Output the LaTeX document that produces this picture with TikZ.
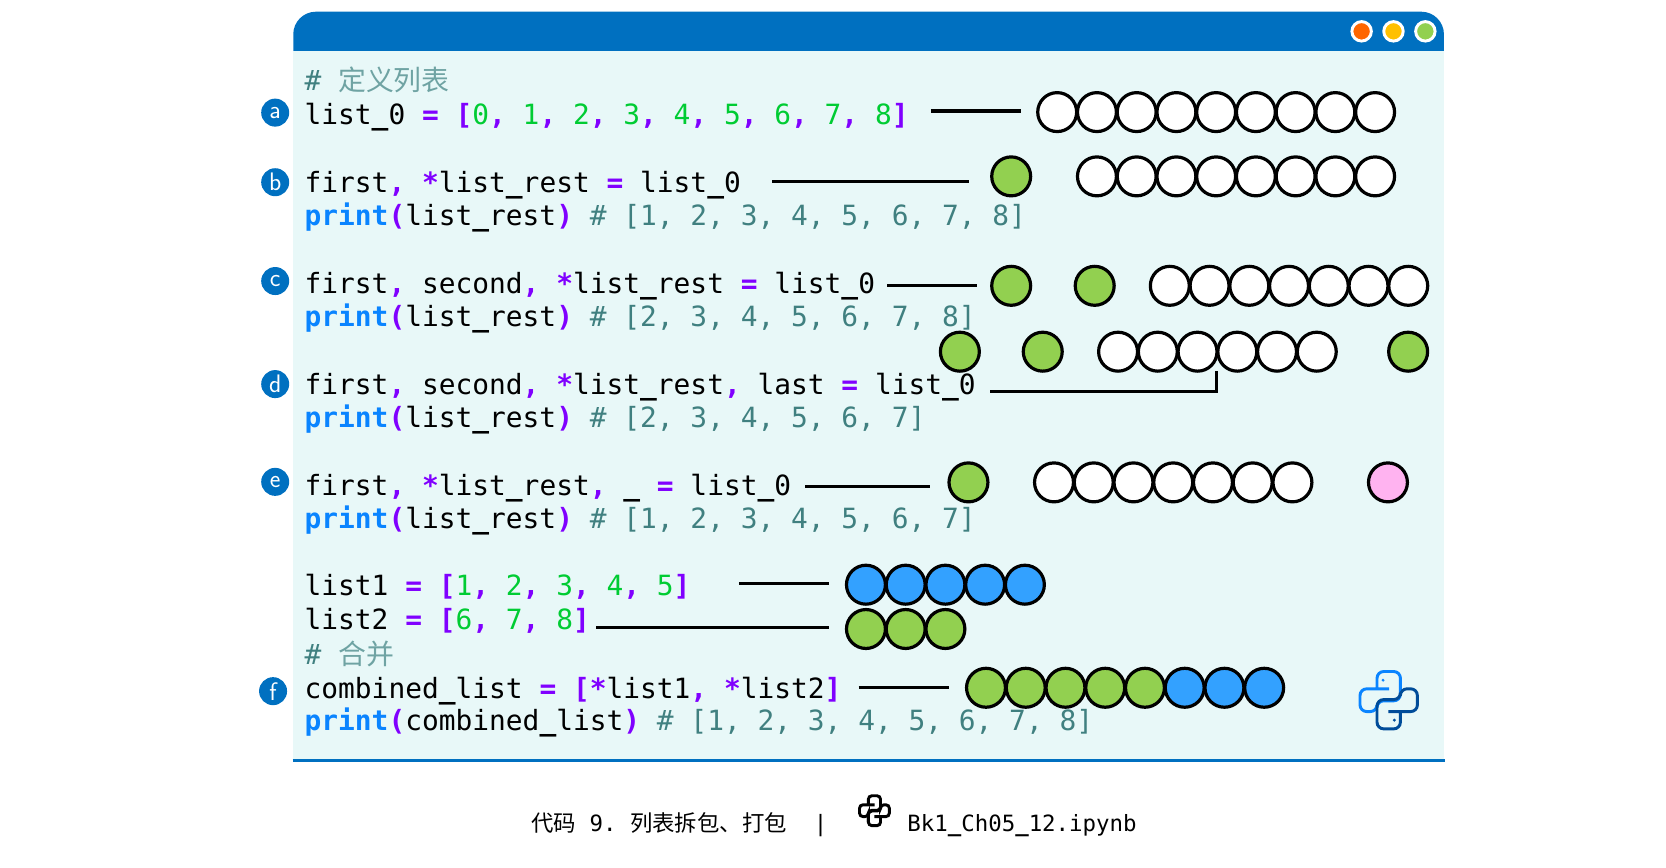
\documentclass[tikz,border=0pt]{standalone}
\usepackage{fontspec}
\setmainfont{Noto Sans}
\setmonofont{DejaVu Sans Mono}
\newfontfamily\cjk{Noto Sans CJK SC}
\definecolor{barblue}{HTML}{0070C0}
\definecolor{bodybg}{HTML}{E8F8F8}
\definecolor{fgreen}{HTML}{92D050}
\definecolor{fblue}{HTML}{33A1FF}
\definecolor{fpink}{HTML}{FFB3F0}
\definecolor{opc}{HTML}{8000FF}
\definecolor{numc}{HTML}{00CC33}
\definecolor{prc}{HTML}{0A84FF}
\definecolor{cmc}{HTML}{408080}
\definecolor{cmcl}{HTML}{6FA3A3}
\definecolor{logod}{HTML}{004C99}
\newcommand{\op}[1]{\textcolor{opc}{\bfseries #1}}
\newcommand{\br}[1]{\textcolor{opc}{\bfseries #1}}
\newcommand{\nm}[1]{\textcolor{numc}{#1}}
\newcommand{\pr}{\textcolor{prc}{\bfseries print}}
\newcommand{\cm}[1]{\textcolor{cmc}{#1}}
\newcommand{\us}{{\bfseries\_}}
\newcommand{\snake}{(0.3,-10.7) -- (-27,-10.7) -- (-27,10.7) -- (-11,10.7) -- (-11,0.6) -- (11,0.6) -- (11,-27) -- (-11,-27) -- (-11,-10.7)}
\tikzset{
  x=0.796875pt,y=-0.796875pt,
  cbase/.style={circle,draw=black,line width=2.4pt,inner sep=0pt,outer sep=0pt,minimum size=29.2pt},
  cw/.style={cbase,fill=white},
  cg/.style={cbase,fill=fgreen},
  cb/.style={cbase,fill=fblue},
  cp/.style={cbase,fill=fpink},
  conn/.style={draw=black,line width=2.3pt},
  code/.style={anchor=base west,inner sep=0pt,outer sep=0pt,font=\ttfamily\fontsize{20.9pt}{25pt}\selectfont},
  capt/.style={anchor=base west,inner sep=0pt,outer sep=0pt,font=\ttfamily\fontsize{16.8pt}{20pt}\selectfont},
  tag/.style={circle,fill=barblue,inner sep=0pt,outer sep=0pt,minimum size=21pt,text=white,font=\sffamily\fontsize{19pt}{19pt}\selectfont},
  dot/.style={circle,draw=white,line width=2.2pt,inner sep=0pt,outer sep=0pt,minimum size=14.6pt},
}
\begin{document}
\begin{tikzpicture}
\useasboundingbox (0,0) rectangle (1568,816);
% window
\fill[bodybg] (276,48) rectangle (1359,715);
\fill[barblue] (276,48) [rounded corners=17pt] -- (276,11) -- (1359,11) [sharp corners] -- (1359,48) -- cycle;
\draw[barblue,line width=2.3pt] (275.5,715.5) -- (1360,715.5);
\node[dot,fill={rgb,255:red,255;green,102;blue,0}] (d1) at (1281.5,29.5) {};
\node[dot,fill={rgb,255:red,255;green,192;blue,0}] (d2) at (1311.5,29.5) {};
\node[dot,fill=fgreen] (d3) at (1341.5,29.5) {};
% tags
\node[tag] (ta) at (259,106) {a};
\node[tag] (tb) at (259,171.5) {b};
\node[tag] (tc) at (259,264.5) {c};
\node[tag] (td) at (259,361.5) {d};
\node[tag] (te) at (259,453.5) {e};
\node[tag] (tf) at (257,650.5) {f};
% code
\node[code] (l1) at (286.7,85.6) {\cm{\# {\color{cmcl}\cjk 定义列表}}};
\node[code] (l2) at (286.7,117.6) {list\us0 \op{=} \br{[}\nm{0}\op{,} \nm{1}\op{,} \nm{2}\op{,} \nm{3}\op{,} \nm{4}\op{,} \nm{5}\op{,} \nm{6}\op{,} \nm{7}\op{,} \nm{8}\br{]}};
\node[code] (l3) at (286.7,181) {first\op{,} \op{*}list\us rest \op{=} list\us0};
\node[code] (l4) at (286.7,212.6) {\pr\br{(}list\us rest\br{)} \cm{\# [1, 2, 3, 4, 5, 6, 7, 8]}};
\node[code] (l5) at (286.7,276) {first\op{,} second\op{,} \op{*}list\us rest \op{=} list\us0};
\node[code] (l6) at (286.7,307.6) {\pr\br{(}list\us rest\br{)} \cm{\# [2, 3, 4, 5, 6, 7, 8]}};
\node[code] (l7) at (286.7,371) {first\op{,} second\op{,} \op{*}list\us rest\op{,} last \op{=} list\us0};
\node[code] (l8) at (286.7,402.6) {\pr\br{(}list\us rest\br{)} \cm{\# [2, 3, 4, 5, 6, 7]}};
\node[code] (l9) at (286.7,466) {first\op{,} \op{*}list\us rest\op{,} \us{} \op{=} list\us0};
\node[code] (l10) at (286.7,497.6) {\pr\br{(}list\us rest\br{)} \cm{\# [1, 2, 3, 4, 5, 6, 7]}};
\node[code] (l11) at (286.7,560) {list1 \op{=} \br{[}\nm{1}\op{,} \nm{2}\op{,} \nm{3}\op{,} \nm{4}\op{,} \nm{5}\br{]}};
\node[code] (l12) at (286.7,592) {list2 \op{=} \br{[}\nm{6}\op{,} \nm{7}\op{,} \nm{8}\br{]}};
\node[code] (l13) at (286.7,625) {\cm{\# {\color{cmcl}\cjk 合并}}};
\node[code] (l14) at (286.7,657) {combined\us list \op{=} \br{[}\op{*}list1\op{,} \op{*}list2\br{]}};
\node[code] (l15) at (286.7,687.6) {\pr\br{(}combined\us list\br{)} \cm{\# [1, 2, 3, 4, 5, 6, 7, 8]}};
% connectors
\coordinate (a1) at (876,104.5); \coordinate (a2) at (960.5,104.5);
\coordinate (b1) at (727,170.5); \coordinate (b2) at (912,170.5);
\coordinate (c1) at (835,268.5); \coordinate (c2) at (919.5,268.5);
\coordinate (e1) at (932,368.5); \coordinate (e2) at (1145,349);
\coordinate (f1) at (758,457.5); \coordinate (f2) at (875,457.5);
\coordinate (g1) at (695.5,549.5); \coordinate (g2) at (780,549.5);
\coordinate (h1) at (561,590.5); \coordinate (h2) at (780,590.5);
\coordinate (k1) at (808,647); \coordinate (k2) at (893,647);
\draw[conn] (a1) -- (a2);
\draw[conn] (b1) -- (b2);
\draw[conn] (c1) -- (c2);
\draw[conn] (f1) -- (f2);
\draw[conn] (g1) -- (g2);
\draw[conn] (h1) -- (h2);
\draw[conn] (k1) -- (k2);
% circles
\foreach \i in {0,...,8} \node[cw] (ra\i) at ({995+\i*37.4},105.5) {};
\node[cg] (rb) at (951.7,166) {};
\foreach \i in {0,...,7} \node[cw] (rb\i) at ({1032.4+\i*37.4},166) {};
\node[cg] (rc1) at (951.7,269) {};
\node[cg] (rc2) at (1030.3,269) {};
\foreach \i in {0,...,6} \node[cw] (rc\i w) at ({1101+\i*37.4},269) {};
\node[cg] (rd1) at (903.4,331) {};
\node[cg] (rd2) at (981.4,331) {};
\foreach \i in {0,...,5} \node[cw] (rd\i w) at ({1052.3+\i*37.4},331) {};
\node[cg] (rd3) at (1325.3,331) {};
\node[cg] (re1) at (911.5,454) {};
\foreach \i in {0,...,6} \node[cw] (re\i w) at ({992+\i*37.4},454) {};
\node[cp] (re2) at (1306.3,454) {};
\foreach \i in {0,...,4} \node[cb] (rg\i) at ({815+\i*37.4},550.3) {};
\foreach \i in {0,...,2} \node[cg] (rh\i) at ({815+\i*37.4},592) {};
\foreach \i in {0,...,4} \node[cg] (rk\i) at ({928+\i*37.4},647.3) {};
\foreach \i in {0,...,2} \node[cb] (rm\i) at ({1115+\i*37.4},647.3) {};
\draw[conn] (e1) -| (e2);
% python logo, large
\begin{scope}[shift={(1307,659)}]
  \draw[prc,line width=2.2pt,rounded corners=5pt] \snake;
  \fill[prc] (-5.3,-18.8) circle (1.2pt);
  \begin{scope}[rotate=180]
    \draw[logod,line width=2.2pt,rounded corners=5pt] \snake;
    \fill[logod] (-5.3,-18.8) circle (1.2pt);
  \end{scope}
\end{scope}
% caption
\node[capt] (cap1) at (500,782.6) {{\cjk 代码} 9. {\cjk 列表拆包、打包}~~|};
\begin{scope}[shift={(823,763)},scale=0.52]
  \draw[black,line width=2.2pt,rounded corners=2.6pt] \snake;
  \begin{scope}[rotate=180]
    \draw[black,line width=2.2pt,rounded corners=2.6pt] \snake;
  \end{scope}
\end{scope}
\node[capt] (cap2) at (854,782.6) {Bk1{\bfseries\_}Ch05{\bfseries\_}12.ipynb};
\end{tikzpicture}
\end{document}
